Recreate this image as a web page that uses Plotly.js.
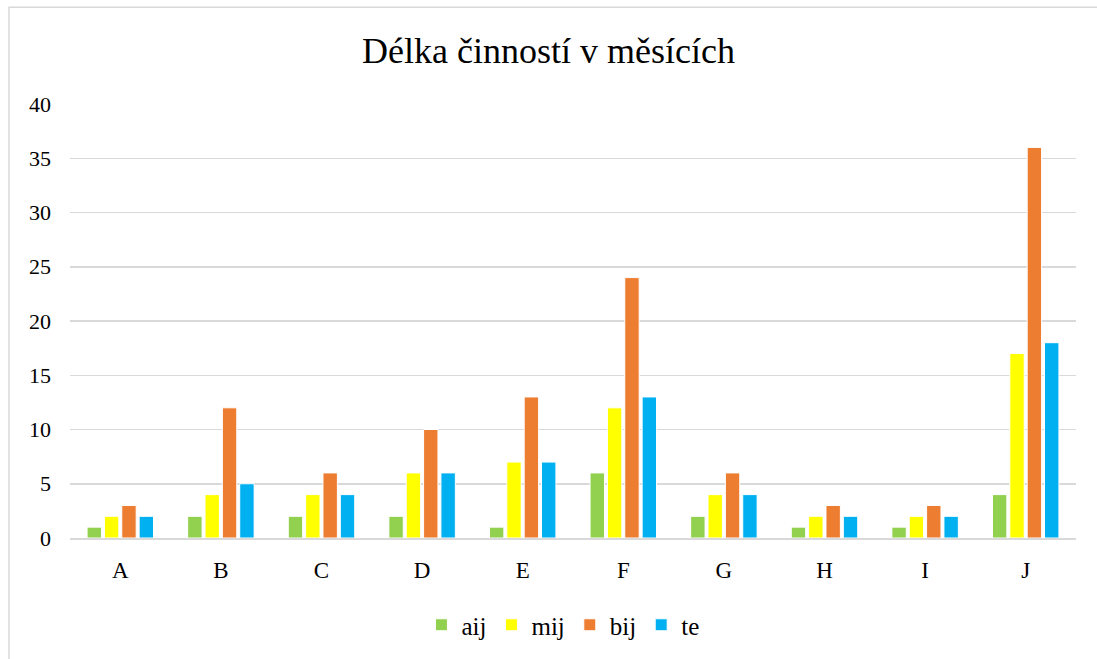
<!DOCTYPE html>
<html>
<head>
<meta charset="utf-8">
<script src="https://cdn.plot.ly/plotly-3.0.1.min.js"></script>
<style>
html,body{margin:0;padding:0;background:#fff;}
#chart{width:1097px;height:659px;}
</style>
</head>
<body>
<div id="chart"></div>
<script>
const categories = ['A','B','C','D','E','F','G','H','I','J'];
const aij = [1,2,2,2,1,6,2,1,1,4];
const mij = [2,4,4,6,7,12,4,2,2,17];
const bij = [3,12,6,10,13,24,6,3,3,36];
const te  = [2,5,4,6,7,13,4,2,2,18];
const seriesNames = ['aij','mij','bij','te'];
const seriesColors = ['#92D050','#FFFF00','#ED7D31','#00B0F0'];
const seriesValues = [aij, mij, bij, te];
const yTicks = [0,5,10,15,20,25,30,35,40];

const W = 1097, H = 659;
const ml = 70, mr = 21, mt = 104, mb = 120;
const SERIF = 'Liberation Serif';

const traces = seriesValues.map((vals, i) => ({
  type: 'bar',
  name: seriesNames[i],
  x: categories,
  y: vals,
  marker: {color: seriesColors[i], line: {color: '#ffffff', width: 1}},
  hoverinfo: 'x+y+name'
}));

function px2paperX(px){ return (px - ml) / (W - ml - mr); }
function px2paperY(py){ return (H - mb - py) / (H - mt - mb); }

const layout = {
  width: W, height: H,
  margin: {l: ml, r: mr, t: mt, b: mb, pad: 0},
  paper_bgcolor: '#ffffff',
  plot_bgcolor: '#ffffff',
  font: {family: SERIF, color: '#000000', size: 22},
  title: {
    text: 'Délka činností v měsících',
    font: {family: SERIF, size: 36, color: '#000000'},
    x: 0.5, xanchor: 'center', xref: 'container',
    y: 1 - 50/H, yanchor: 'middle', yref: 'container'
  },
  barmode: 'group',
  bargap: 0.31,
  bargroupgap: 0.17,
  showlegend: true,
  legend: {
    orientation: 'h',
    x: 0.49, xanchor: 'center',
    y: px2paperY(625), yanchor: 'middle',
    font: {family: SERIF, size: 25, color: '#000000'},
    itemwidth: 30,
    traceorder: 'normal'
  },
  xaxis: {
    type: 'category',
    tickfont: {family: SERIF, size: 23},
    showgrid: false,
    showline: true,
    linecolor: '#d9d9d9',
    linewidth: 1.5,
    ticks: '',
    ticklabelstandoff: 11,
    fixedrange: true
  },
  yaxis: {
    range: [0, 40],
    tickvals: yTicks,
    ticktext: yTicks.map(String),
    tickfont: {family: SERIF, size: 22},
    showgrid: true,
    gridcolor: '#d9d9d9',
    gridwidth: 1.5,
    zeroline: false,
    showline: false,
    ticks: '',
    ticklabelstandoff: 18,
    fixedrange: true
  },
  shapes: [{
    type: 'rect', xref: 'paper', yref: 'paper',
    x0: px2paperX(9), x1: px2paperX(1110),
    y0: px2paperY(680), y1: px2paperY(7),
    line: {color: '#d9d9d9', width: 1.5},
    fillcolor: 'rgba(0,0,0,0)',
    layer: 'below'
  }]
};

Plotly.newPlot('chart', traces, layout, {displayModeBar: false, staticPlot: true});
</script>
</body>
</html>
